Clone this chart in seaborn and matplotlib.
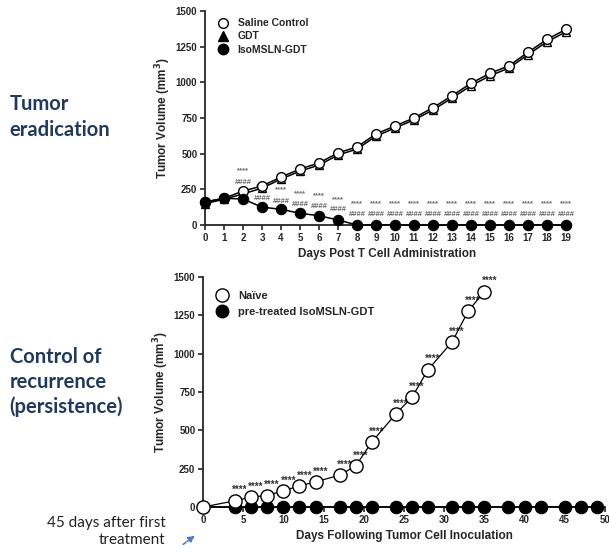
import matplotlib
matplotlib.use("Agg")
import matplotlib.pyplot as plt
from matplotlib.lines import Line2D
import seaborn as sns

sns.set_style("ticks")
plt.rcParams["font.family"] = ["Liberation Sans", "DejaVu Sans"]
plt.rcParams["font.weight"] = "bold"

# ---------- data: tumor eradication ----------
days_top = list(range(20))
saline = [161, 187, 238, 273, 336, 392, 435, 505, 547, 638,
          694, 750, 822, 906, 993, 1063, 1116, 1210, 1301, 1371]
gdt = [150, 180, 218, 258, 322, 377, 420, 490, 532, 622,
       680, 736, 806, 890, 976, 1046, 1100, 1194, 1284, 1354]
iso = [161, 187, 182, 125, 110, 82, 65, 35, 0, 0,
       0, 0, 0, 0, 0, 0, 0, 0, 0, 0]

# significance marks (vs saline / vs GDT), days 2-19
sig_days = list(range(2, 20))
star_y = [378, 265, 245, 222, 203, 175] + [152] * 12
hash_y = [301, 185, 168, 145, 129, 105] + [75] * 12

# ---------- data: control of recurrence ----------
days_naive = [0, 4, 6, 8, 10, 12, 14, 17, 19, 21, 24, 26, 28, 31, 33, 35]
naive = [0, 41, 65, 75, 106, 138, 164, 208, 268, 424, 608, 716, 896, 1078, 1279, 1405]
days_pre = [0, 4, 6, 8, 10, 12, 14, 17, 19, 21, 24, 26, 28, 31, 33, 35,
            38, 40, 42, 45, 47, 49]
pretreated = [0] * len(days_pre)

NAVY = "#1f3a5c"

fig = plt.figure(figsize=(6.09, 5.54), dpi=100)


def style_axis(ax):
    sns.despine(ax=ax)
    for side in ["left", "bottom"]:
        ax.spines[side].set_linewidth(1.3)
    ax.tick_params(width=1.2, length=3.5, labelsize=7, pad=2)
    for lab in ax.get_xticklabels() + ax.get_yticklabels():
        lab.set_fontweight("bold")


def marker_handle(marker, face, size):
    return Line2D([], [], linestyle="", marker=marker, markersize=size,
                  markerfacecolor=face, markeredgecolor="black",
                  markeredgewidth=1.0)


# ---------- top panel ----------
ax1 = fig.add_axes([0.3366, 0.5939, 0.599, 0.3863])
sns.lineplot(x=days_top, y=gdt, ax=ax1, color="black", linewidth=1.1,
             marker="^", markersize=6, markerfacecolor="white",
             markeredgecolor="black", markeredgewidth=1.0, clip_on=False,
             zorder=3)
sns.lineplot(x=days_top, y=saline, ax=ax1, color="black", linewidth=1.1,
             marker="o", markersize=7, markerfacecolor="white",
             markeredgecolor="black", markeredgewidth=1.0, clip_on=False,
             zorder=4)
sns.lineplot(x=days_top, y=iso, ax=ax1, color="black", linewidth=1.1,
             marker="o", markersize=7.5, markerfacecolor="black",
             markeredgecolor="black", clip_on=False, zorder=5)
for d, sy, hy in zip(sig_days, star_y, hash_y):
    ax1.text(d, sy, "****", ha="center", va="center", fontsize=5.5,
             color="#666666")
    ax1.text(d, hy, "####", ha="center", va="center", fontsize=5.5,
             color="#666666")

ax1.set_xlim(0, 19.2)
ax1.set_ylim(0, 1500)
ax1.set_xticks(days_top)
ax1.set_yticks([0, 250, 500, 750, 1000, 1250, 1500])
ax1.set_xlabel("Days Post T Cell Administration", fontsize=8.5,
               fontweight="bold", labelpad=4)
ax1.set_ylabel("Tumor Volume (mm$^\\mathbf{3}$)", fontsize=8.5,
               fontweight="bold", labelpad=2)
ax1.legend([marker_handle("o", "white", 7), marker_handle("^", "black", 6.5),
            marker_handle("o", "black", 7.5)],
           ["Saline Control", "GDT", "IsoMSLN-GDT"],
           loc="upper left", bbox_to_anchor=(0.015, 1.0), frameon=False,
           prop={"weight": "bold", "size": 7.5},
           handlelength=1.0, handletextpad=0.9, labelspacing=0.3,
           borderaxespad=0.3)
style_axis(ax1)

# ---------- bottom panel ----------
ax2 = fig.add_axes([0.3333, 0.0848, 0.660, 0.415])
sns.lineplot(x=days_pre, y=pretreated, ax=ax2, color="black", linewidth=1.1,
             marker="o", markersize=9, markerfacecolor="black",
             markeredgecolor="black", clip_on=False, zorder=3)
sns.lineplot(x=days_naive, y=naive, ax=ax2, color="black", linewidth=0.9,
             marker="o", markersize=9.5, markerfacecolor="white",
             markeredgecolor="black", markeredgewidth=1.0, clip_on=False,
             zorder=4)
for d, v in zip(days_naive[1:], naive[1:]):
    ax2.annotate("****", (d, v), xytext=(3.5, 7.5), textcoords="offset points",
                 ha="center", va="center", fontsize=7, color="#333333")

ax2.set_xlim(0, 50)
ax2.set_ylim(0, 1500)
ax2.set_xticks(range(0, 51, 5))
ax2.set_yticks([0, 250, 500, 750, 1000, 1250, 1500])
ax2.set_xlabel("Days Following Tumor Cell Inoculation", fontsize=8.5,
               fontweight="bold", labelpad=4)
ax2.set_ylabel("Tumor Volume (mm$^\\mathbf{3}$)", fontsize=8.5,
               fontweight="bold", labelpad=2)
ax2.legend([marker_handle("o", "white", 9.5), marker_handle("o", "black", 9)],
           ["Naïve", "pre-treated IsoMSLN-GDT"],
           loc="upper left", bbox_to_anchor=(0.015, 0.975), frameon=False,
           prop={"weight": "bold", "size": 8},
           handlelength=1.0, handletextpad=0.9, labelspacing=0.55,
           borderaxespad=0.3)
style_axis(ax2)

# ---------- side text ----------
side_font = ["Lato", "DejaVu Sans"]
fig.text(0.016, 0.789, "Tumor\neradication", fontsize=14.5,
         fontweight="bold", color=NAVY, family=side_font,
         va="center", ha="left", linespacing=1.4)
fig.text(0.016, 0.3105, "Control of\nrecurrence\n(persistence)", fontsize=14.5,
         fontweight="bold", color=NAVY, family=side_font,
         va="center", ha="left", linespacing=1.3)
fig.text(0.272, 0.040, "45 days after first\ntreatment", fontsize=11,
         color="#222222", family=side_font, fontweight="normal",
         va="center", ha="right", linespacing=1.25)
fig.add_artist(matplotlib.patches.FancyArrowPatch(
    (181 / 609, 1 - 546 / 554), (197 / 609, 1 - 534 / 554),
    transform=fig.transFigure, arrowstyle="-|>", mutation_scale=9,
    color="#4a7ec4", linewidth=1.2, linestyle=(0, (2, 1))))

plt.savefig("out.png", dpi=100)
plt.close()
